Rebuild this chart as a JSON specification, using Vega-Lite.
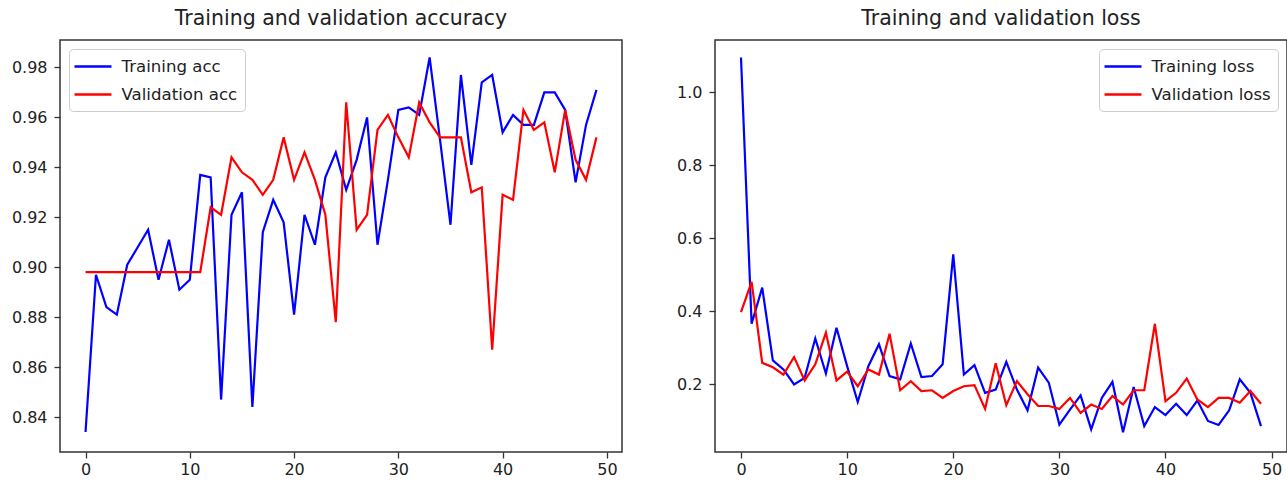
{
  "$schema": "https://vega.github.io/schema/vega-lite/v6.json",
  "background": "white",
  "padding": {"left": 10, "top": 7, "right": 1, "bottom": 5},
  "config": {
    "font": "DejaVu Sans",
    "view": {"stroke": "#333", "strokeWidth": 1.5},
    "axis": {"grid": false, "domain": false, "tickColor": "#333", "tickSize": 6, "tickWidth": 1.3, "labelFont": "DejaVu Sans", "labelFontSize": 16, "labelColor": "#222", "title": null},
    "axisX": {"labelPadding": 3},
    "axisY": {"labelPadding": 7},
    "legend": {"title": null, "symbolType": "M-2,0H2", "symbolSize": 342, "symbolStrokeWidth": 2.5, "symbolOffset": 6.5, "labelOffset": 18, "padding": 7, "rowPadding": 8, "fillColor": "white", "strokeColor": "#ccc", "cornerRadius": 4, "labelFont": "DejaVu Sans", "labelFontSize": 16.6, "labelColor": "#222", "offset": 9},
    "title": {"font": "DejaVu Sans", "fontSize": 20.5, "fontWeight": "normal", "color": "#222", "anchor": "middle", "baseline": "alphabetic", "offset": 11}
  },
  "data": {"values": [
    {"p":"acc","s":"Training acc","e":0,"v":0.834},{"p":"acc","s":"Training acc","e":1,"v":0.897},{"p":"acc","s":"Training acc","e":2,"v":0.884},{"p":"acc","s":"Training acc","e":3,"v":0.881},{"p":"acc","s":"Training acc","e":4,"v":0.901},
    {"p":"acc","s":"Training acc","e":5,"v":0.908},{"p":"acc","s":"Training acc","e":6,"v":0.915},{"p":"acc","s":"Training acc","e":7,"v":0.895},{"p":"acc","s":"Training acc","e":8,"v":0.911},{"p":"acc","s":"Training acc","e":9,"v":0.891},
    {"p":"acc","s":"Training acc","e":10,"v":0.895},{"p":"acc","s":"Training acc","e":11,"v":0.937},{"p":"acc","s":"Training acc","e":12,"v":0.936},{"p":"acc","s":"Training acc","e":13,"v":0.847},{"p":"acc","s":"Training acc","e":14,"v":0.921},
    {"p":"acc","s":"Training acc","e":15,"v":0.930},{"p":"acc","s":"Training acc","e":16,"v":0.844},{"p":"acc","s":"Training acc","e":17,"v":0.914},{"p":"acc","s":"Training acc","e":18,"v":0.927},{"p":"acc","s":"Training acc","e":19,"v":0.918},
    {"p":"acc","s":"Training acc","e":20,"v":0.881},{"p":"acc","s":"Training acc","e":21,"v":0.921},{"p":"acc","s":"Training acc","e":22,"v":0.909},{"p":"acc","s":"Training acc","e":23,"v":0.936},{"p":"acc","s":"Training acc","e":24,"v":0.946},
    {"p":"acc","s":"Training acc","e":25,"v":0.931},{"p":"acc","s":"Training acc","e":26,"v":0.943},{"p":"acc","s":"Training acc","e":27,"v":0.960},{"p":"acc","s":"Training acc","e":28,"v":0.909},{"p":"acc","s":"Training acc","e":29,"v":0.935},
    {"p":"acc","s":"Training acc","e":30,"v":0.963},{"p":"acc","s":"Training acc","e":31,"v":0.964},{"p":"acc","s":"Training acc","e":32,"v":0.961},{"p":"acc","s":"Training acc","e":33,"v":0.984},{"p":"acc","s":"Training acc","e":34,"v":0.951},
    {"p":"acc","s":"Training acc","e":35,"v":0.917},{"p":"acc","s":"Training acc","e":36,"v":0.977},{"p":"acc","s":"Training acc","e":37,"v":0.941},{"p":"acc","s":"Training acc","e":38,"v":0.974},{"p":"acc","s":"Training acc","e":39,"v":0.977},
    {"p":"acc","s":"Training acc","e":40,"v":0.954},{"p":"acc","s":"Training acc","e":41,"v":0.961},{"p":"acc","s":"Training acc","e":42,"v":0.957},{"p":"acc","s":"Training acc","e":43,"v":0.957},{"p":"acc","s":"Training acc","e":44,"v":0.970},
    {"p":"acc","s":"Training acc","e":45,"v":0.970},{"p":"acc","s":"Training acc","e":46,"v":0.963},{"p":"acc","s":"Training acc","e":47,"v":0.934},{"p":"acc","s":"Training acc","e":48,"v":0.957},{"p":"acc","s":"Training acc","e":49,"v":0.971},
    {"p":"acc","s":"Validation acc","e":0,"v":0.898},{"p":"acc","s":"Validation acc","e":1,"v":0.898},{"p":"acc","s":"Validation acc","e":2,"v":0.898},{"p":"acc","s":"Validation acc","e":3,"v":0.898},{"p":"acc","s":"Validation acc","e":4,"v":0.898},
    {"p":"acc","s":"Validation acc","e":5,"v":0.898},{"p":"acc","s":"Validation acc","e":6,"v":0.898},{"p":"acc","s":"Validation acc","e":7,"v":0.898},{"p":"acc","s":"Validation acc","e":8,"v":0.898},{"p":"acc","s":"Validation acc","e":9,"v":0.898},
    {"p":"acc","s":"Validation acc","e":10,"v":0.898},{"p":"acc","s":"Validation acc","e":11,"v":0.898},{"p":"acc","s":"Validation acc","e":12,"v":0.924},{"p":"acc","s":"Validation acc","e":13,"v":0.921},{"p":"acc","s":"Validation acc","e":14,"v":0.944},
    {"p":"acc","s":"Validation acc","e":15,"v":0.938},{"p":"acc","s":"Validation acc","e":16,"v":0.935},{"p":"acc","s":"Validation acc","e":17,"v":0.929},{"p":"acc","s":"Validation acc","e":18,"v":0.935},{"p":"acc","s":"Validation acc","e":19,"v":0.952},
    {"p":"acc","s":"Validation acc","e":20,"v":0.935},{"p":"acc","s":"Validation acc","e":21,"v":0.946},{"p":"acc","s":"Validation acc","e":22,"v":0.935},{"p":"acc","s":"Validation acc","e":23,"v":0.921},{"p":"acc","s":"Validation acc","e":24,"v":0.878},
    {"p":"acc","s":"Validation acc","e":25,"v":0.966},{"p":"acc","s":"Validation acc","e":26,"v":0.915},{"p":"acc","s":"Validation acc","e":27,"v":0.921},{"p":"acc","s":"Validation acc","e":28,"v":0.955},{"p":"acc","s":"Validation acc","e":29,"v":0.961},
    {"p":"acc","s":"Validation acc","e":30,"v":0.952},{"p":"acc","s":"Validation acc","e":31,"v":0.944},{"p":"acc","s":"Validation acc","e":32,"v":0.966},{"p":"acc","s":"Validation acc","e":33,"v":0.958},{"p":"acc","s":"Validation acc","e":34,"v":0.952},
    {"p":"acc","s":"Validation acc","e":35,"v":0.952},{"p":"acc","s":"Validation acc","e":36,"v":0.952},{"p":"acc","s":"Validation acc","e":37,"v":0.930},{"p":"acc","s":"Validation acc","e":38,"v":0.932},{"p":"acc","s":"Validation acc","e":39,"v":0.867},
    {"p":"acc","s":"Validation acc","e":40,"v":0.929},{"p":"acc","s":"Validation acc","e":41,"v":0.927},{"p":"acc","s":"Validation acc","e":42,"v":0.963},{"p":"acc","s":"Validation acc","e":43,"v":0.955},{"p":"acc","s":"Validation acc","e":44,"v":0.958},
    {"p":"acc","s":"Validation acc","e":45,"v":0.938},{"p":"acc","s":"Validation acc","e":46,"v":0.963},{"p":"acc","s":"Validation acc","e":47,"v":0.943},{"p":"acc","s":"Validation acc","e":48,"v":0.935},{"p":"acc","s":"Validation acc","e":49,"v":0.952},
    {"p":"loss","s":"Training loss","e":0,"v":1.095},{"p":"loss","s":"Training loss","e":1,"v":0.366},{"p":"loss","s":"Training loss","e":2,"v":0.465},{"p":"loss","s":"Training loss","e":3,"v":0.266},{"p":"loss","s":"Training loss","e":4,"v":0.241},
    {"p":"loss","s":"Training loss","e":5,"v":0.200},{"p":"loss","s":"Training loss","e":6,"v":0.218},{"p":"loss","s":"Training loss","e":7,"v":0.326},{"p":"loss","s":"Training loss","e":8,"v":0.230},{"p":"loss","s":"Training loss","e":9,"v":0.355},
    {"p":"loss","s":"Training loss","e":10,"v":0.250},{"p":"loss","s":"Training loss","e":11,"v":0.152},{"p":"loss","s":"Training loss","e":12,"v":0.250},{"p":"loss","s":"Training loss","e":13,"v":0.310},{"p":"loss","s":"Training loss","e":14,"v":0.223},
    {"p":"loss","s":"Training loss","e":15,"v":0.214},{"p":"loss","s":"Training loss","e":16,"v":0.312},{"p":"loss","s":"Training loss","e":17,"v":0.220},{"p":"loss","s":"Training loss","e":18,"v":0.223},{"p":"loss","s":"Training loss","e":19,"v":0.255},
    {"p":"loss","s":"Training loss","e":20,"v":0.556},{"p":"loss","s":"Training loss","e":21,"v":0.227},{"p":"loss","s":"Training loss","e":22,"v":0.253},{"p":"loss","s":"Training loss","e":23,"v":0.177},{"p":"loss","s":"Training loss","e":24,"v":0.186},
    {"p":"loss","s":"Training loss","e":25,"v":0.262},{"p":"loss","s":"Training loss","e":26,"v":0.186},{"p":"loss","s":"Training loss","e":27,"v":0.129},{"p":"loss","s":"Training loss","e":28,"v":0.246},{"p":"loss","s":"Training loss","e":29,"v":0.205},
    {"p":"loss","s":"Training loss","e":30,"v":0.090},{"p":"loss","s":"Training loss","e":31,"v":0.131},{"p":"loss","s":"Training loss","e":32,"v":0.170},{"p":"loss","s":"Training loss","e":33,"v":0.077},{"p":"loss","s":"Training loss","e":34,"v":0.163},
    {"p":"loss","s":"Training loss","e":35,"v":0.207},{"p":"loss","s":"Training loss","e":36,"v":0.069},{"p":"loss","s":"Training loss","e":37,"v":0.193},{"p":"loss","s":"Training loss","e":38,"v":0.086},{"p":"loss","s":"Training loss","e":39,"v":0.138},
    {"p":"loss","s":"Training loss","e":40,"v":0.116},{"p":"loss","s":"Training loss","e":41,"v":0.147},{"p":"loss","s":"Training loss","e":42,"v":0.116},{"p":"loss","s":"Training loss","e":43,"v":0.156},{"p":"loss","s":"Training loss","e":44,"v":0.100},
    {"p":"loss","s":"Training loss","e":45,"v":0.089},{"p":"loss","s":"Training loss","e":46,"v":0.129},{"p":"loss","s":"Training loss","e":47,"v":0.214},{"p":"loss","s":"Training loss","e":48,"v":0.177},{"p":"loss","s":"Training loss","e":49,"v":0.086},
    {"p":"loss","s":"Validation loss","e":0,"v":0.398},{"p":"loss","s":"Validation loss","e":1,"v":0.481},{"p":"loss","s":"Validation loss","e":2,"v":0.259},{"p":"loss","s":"Validation loss","e":3,"v":0.247},{"p":"loss","s":"Validation loss","e":4,"v":0.227},
    {"p":"loss","s":"Validation loss","e":5,"v":0.275},{"p":"loss","s":"Validation loss","e":6,"v":0.211},{"p":"loss","s":"Validation loss","e":7,"v":0.255},{"p":"loss","s":"Validation loss","e":8,"v":0.342},{"p":"loss","s":"Validation loss","e":9,"v":0.211},
    {"p":"loss","s":"Validation loss","e":10,"v":0.235},{"p":"loss","s":"Validation loss","e":11,"v":0.195},{"p":"loss","s":"Validation loss","e":12,"v":0.241},{"p":"loss","s":"Validation loss","e":13,"v":0.227},{"p":"loss","s":"Validation loss","e":14,"v":0.339},
    {"p":"loss","s":"Validation loss","e":15,"v":0.184},{"p":"loss","s":"Validation loss","e":16,"v":0.209},{"p":"loss","s":"Validation loss","e":17,"v":0.182},{"p":"loss","s":"Validation loss","e":18,"v":0.184},{"p":"loss","s":"Validation loss","e":19,"v":0.163},
    {"p":"loss","s":"Validation loss","e":20,"v":0.182},{"p":"loss","s":"Validation loss","e":21,"v":0.195},{"p":"loss","s":"Validation loss","e":22,"v":0.198},{"p":"loss","s":"Validation loss","e":23,"v":0.133},{"p":"loss","s":"Validation loss","e":24,"v":0.258},
    {"p":"loss","s":"Validation loss","e":25,"v":0.143},{"p":"loss","s":"Validation loss","e":26,"v":0.209},{"p":"loss","s":"Validation loss","e":27,"v":0.173},{"p":"loss","s":"Validation loss","e":28,"v":0.141},{"p":"loss","s":"Validation loss","e":29,"v":0.141},
    {"p":"loss","s":"Validation loss","e":30,"v":0.133},{"p":"loss","s":"Validation loss","e":31,"v":0.163},{"p":"loss","s":"Validation loss","e":32,"v":0.122},{"p":"loss","s":"Validation loss","e":33,"v":0.145},{"p":"loss","s":"Validation loss","e":34,"v":0.133},
    {"p":"loss","s":"Validation loss","e":35,"v":0.168},{"p":"loss","s":"Validation loss","e":36,"v":0.145},{"p":"loss","s":"Validation loss","e":37,"v":0.184},{"p":"loss","s":"Validation loss","e":38,"v":0.184},{"p":"loss","s":"Validation loss","e":39,"v":0.366},
    {"p":"loss","s":"Validation loss","e":40,"v":0.154},{"p":"loss","s":"Validation loss","e":41,"v":0.177},{"p":"loss","s":"Validation loss","e":42,"v":0.216},{"p":"loss","s":"Validation loss","e":43,"v":0.159},{"p":"loss","s":"Validation loss","e":44,"v":0.138},
    {"p":"loss","s":"Validation loss","e":45,"v":0.163},{"p":"loss","s":"Validation loss","e":46,"v":0.163},{"p":"loss","s":"Validation loss","e":47,"v":0.150},{"p":"loss","s":"Validation loss","e":48,"v":0.182},{"p":"loss","s":"Validation loss","e":49,"v":0.147}
  ]},
  "bounds": "flush",
  "spacing": 93,
  "resolve": {"scale": {"color": "independent", "x": "independent", "y": "independent"}, "legend": {"color": "independent"}},
  "hconcat": [
    {
      "width": 562,
      "height": 412,
      "title": {"text": "Training and validation accuracy"},
      "transform": [{"filter": "datum.p == 'acc'"}],
      "mark": {"type": "line", "strokeWidth": 2.2},
      "encoding": {
        "x": {"field": "e", "type": "quantitative", "scale": {"domain": [-2.45, 51.45], "nice": false, "zero": false}, "axis": {"values": [0, 10, 20, 30, 40, 50]}},
        "y": {"field": "v", "type": "quantitative", "scale": {"domain": [0.826, 0.991], "nice": false, "zero": false}, "axis": {"values": [0.84, 0.86, 0.88, 0.9, 0.92, 0.94, 0.96, 0.98], "format": ".2f"}},
        "color": {"field": "s", "type": "nominal", "scale": {"domain": ["Training acc", "Validation acc"], "range": ["#0000ff", "#ff0000"]}, "legend": {"orient": "top-left"}},
        "order": {"field": "e", "type": "quantitative"}
      }
    },
    {
      "width": 572,
      "height": 412,
      "title": {"text": "Training and validation loss"},
      "transform": [{"filter": "datum.p == 'loss'"}],
      "mark": {"type": "line", "strokeWidth": 2.2},
      "encoding": {
        "x": {"field": "e", "type": "quantitative", "scale": {"domain": [-2.45, 51.45], "nice": false, "zero": false}, "axis": {"values": [0, 10, 20, 30, 40, 50]}},
        "y": {"field": "v", "type": "quantitative", "scale": {"domain": [0.015, 1.143], "nice": false, "zero": false}, "axis": {"values": [0.2, 0.4, 0.6, 0.8, 1.0], "format": ".1f"}},
        "color": {"field": "s", "type": "nominal", "scale": {"domain": ["Training loss", "Validation loss"], "range": ["#0000ff", "#ff0000"]}, "legend": {"orient": "top-right"}},
        "order": {"field": "e", "type": "quantitative"}
      }
    }
  ]
}
